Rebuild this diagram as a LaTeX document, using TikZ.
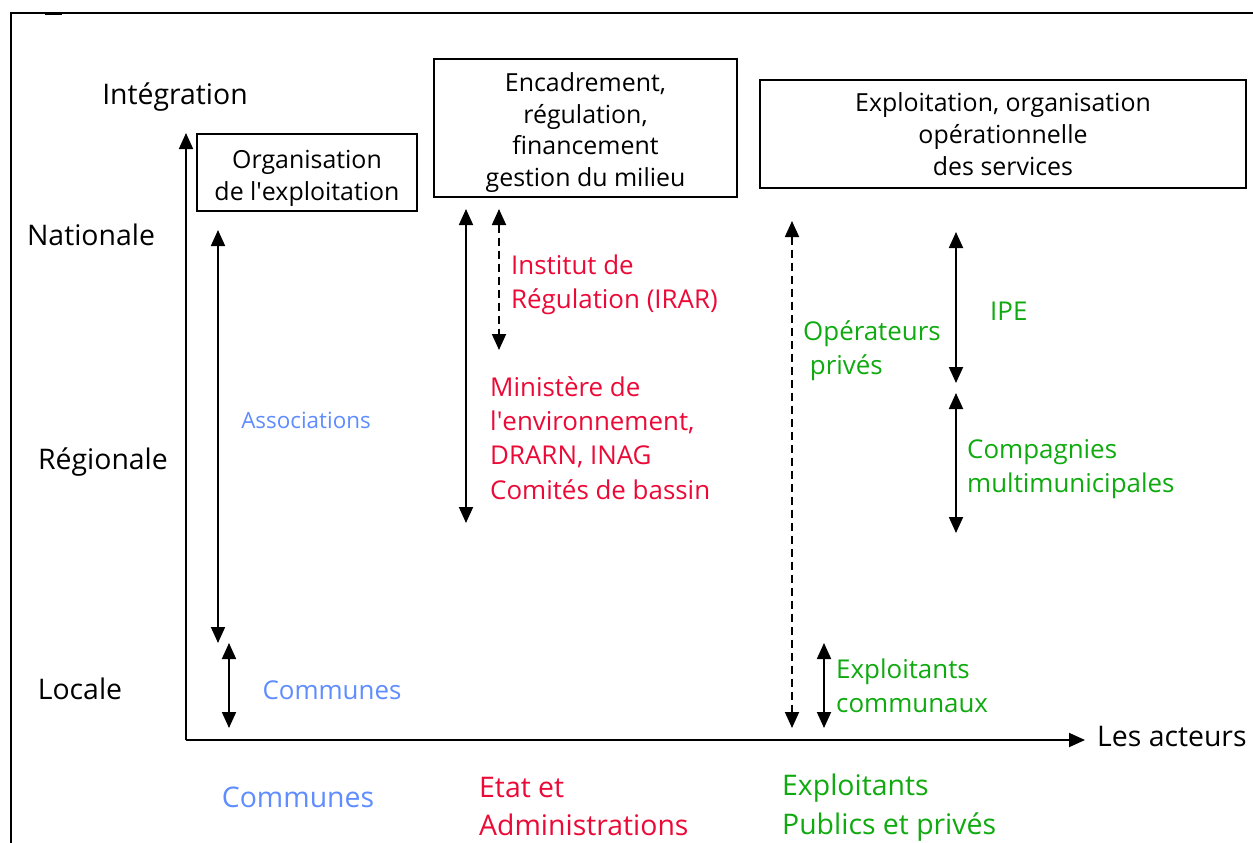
\documentclass[tikz,border=0pt]{standalone}
\usepackage{fontspec}
\setmainfont{Open Sans}
\usetikzlibrary{arrows.meta}
\definecolor{bleu}{RGB}{95,140,255}
\definecolor{rouge}{RGB}{235,10,55}
\definecolor{vert}{RGB}{15,170,15}
\tikzset{
  cadre/.style={draw,line width=1.8bp,align=center,inner sep=0pt,font=\fontsize{25}{32}\selectfont},
  axelbl/.style={inner sep=0pt,font=\fontsize{28.5}{34}\selectfont},
  txt/.style={inner sep=0pt,align=left,font=\fontsize{26}{34.5}\selectfont},
  grand/.style={inner sep=0pt,align=left,font=\fontsize{28.5}{39}\selectfont},
  fl/.style={{Triangle[width=14bp,length=16bp]}-{Triangle[width=14bp,length=16bp]},line width=1.8bp},
  fltir/.style={fl,dash pattern=on 8bp off 5bp},
  axe/.style={-{Triangle[width=14bp,length=16bp]},line width=1.8bp},
}
\begin{document}
\begin{tikzpicture}[x=1bp,y=-1bp]
\useasboundingbox (0,0) rectangle (1253,843);
% cadre
\draw[line width=1.8bp] (11,843) -- (11,13) -- (1253,13);
\draw[line width=1.8bp] (45,14) -- (62,14);
% axes
\coordinate (O) at (186,740);
\coordinate (yhaut) at (186,133);
\coordinate (xfin) at (1085,740);
\draw[axe] (O) -- (yhaut);
\draw[axe] (O) -- (xfin);
\node[axelbl] (integ) at (175,97) {Intégration};
\node[axelbl] (nat) at (91,235) {Nationale};
\node[axelbl] (reg) at (103,462) {Régionale};
\node[axelbl] (loc) at (80,689) {Locale};
\node[axelbl,anchor=west] (acteurs) at (1097,736) {Les acteurs};
% cadres
\node[cadre,minimum width=220bp,minimum height=77bp] (orga) at (307,172.5) {\rule{0pt}{30bp}Organisation\\de l\textquotesingle exploitation};
\node[cadre,minimum width=303bp,minimum height=138bp] (encad) at (585.5,128) {\rule{0pt}{28bp}Encadrement,\\régulation,\\financement\\gestion du milieu};
\node[cadre,minimum width=486bp,minimum height=108bp] (exploit) at (1003,134) {Exploitation, organisation\\opérationnelle\\des services};
% communes
\coordinate (as1) at (218,230);
\coordinate (as2) at (218,643);
\coordinate (co1) at (229,643);
\coordinate (co2) at (229,728);
\draw[fl] (as1) -- (as2);
\draw[fl] (co1) -- (co2);
\node[txt,text=bleu,font=\fontsize{22.5}{28}\selectfont] (assoc) at (306,420) {Associations};
\node[txt,text=bleu] (comm) at (332,690) {Communes};
% etat
\coordinate (mi1) at (466,209);
\coordinate (mi2) at (466,523);
\coordinate (ir1) at (499,209);
\coordinate (ir2) at (499,350);
\draw[fl] (mi1) -- (mi2);
\draw[fltir] (ir1) -- (ir2);
\node[txt,text=rouge,anchor=west] (irar) at (511,284.5) {Institut de\\Régulation (IRAR)};
\node[txt,text=rouge,anchor=west] (minist) at (490,438) {Ministère de\\l\textquotesingle environnement,\\DRARN, INAG\\Comités de bassin};
% exploitants
\coordinate (op1) at (792,221);
\coordinate (op2) at (792,728);
\coordinate (ip1) at (956,232);
\coordinate (ip2) at (956,383);
\coordinate (cm1) at (956,393);
\coordinate (cm2) at (956,533);
\coordinate (ec1) at (824,643);
\coordinate (ec2) at (824,728);
\draw[fltir] (op1) -- (op2);
\draw[fl] (ip1) -- (ip2);
\draw[fl] (cm1) -- (cm2);
\draw[fl] (ec1) -- (ec2);
\node[txt,text=vert,anchor=west] (oper) at (803,350.5) {Opérateurs\\\ privés};
\node[txt,text=vert,anchor=west] (ipe) at (990,311) {IPE};
\node[txt,text=vert,anchor=west] (cmm) at (967,469) {Compagnies\\multimunicipales};
\node[txt,text=vert,anchor=west] (eco) at (836,686) {Exploitants\\communaux};
% acteurs
\node[grand,text=bleu] (bcomm) at (298,797) {Communes};
\node[grand,text=rouge,anchor=west] (betat) at (479,806.5) {Etat et\\Administrations};
\node[grand,text=vert,anchor=west] (bexpl) at (782,808) {Exploitants\\Publics et privés};
\end{tikzpicture}
\end{document}
